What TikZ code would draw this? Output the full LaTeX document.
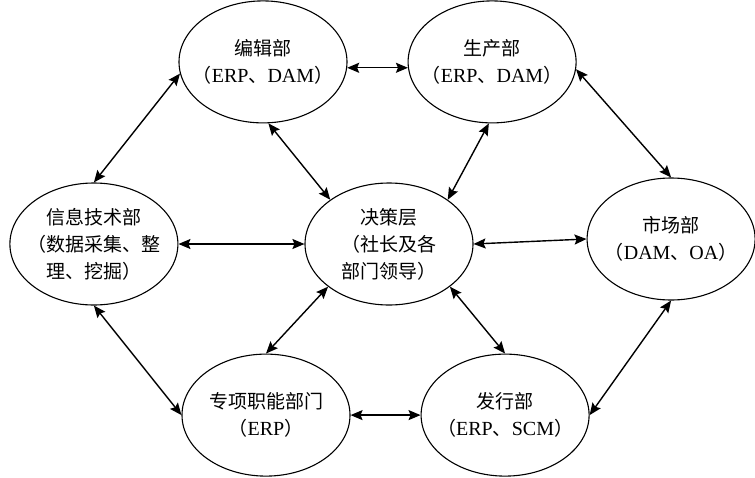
\documentclass[tikz,border=0pt]{standalone}
\usepackage{fontspec}
\setmainfont{Liberation Serif}
\newfontfamily\cjk{Noto Sans CJK SC}
\newcommand\lat[1]{{\rmfamily\fontsize{20}{27}\selectfont #1}}
\usetikzlibrary{shapes.geometric, arrows.meta, positioning}

\begin{document}
\begin{tikzpicture}[
    x=1pt, y=-1pt, node distance=60pt and 60pt,
    dept/.style={ellipse, draw, line width=1.1pt, minimum width=168pt, minimum height=122pt, inner ysep=0pt, inner xsep=-16pt, align=center, font=\cjk\fontsize{19}{27}\selectfont},
    arrow/.style={arrows={Stealth[length=12pt,width=10pt,inset=2pt]-Stealth[length=12pt,width=10pt,inset=2pt]}, line width=1.4pt}
]
    \useasboundingbox (0,0) rectangle (755,477);

    \node[dept] (decision) at (389,244) {决策层\\（社长及各\\部门领导）};
    \node[dept, left=126pt of decision] (info) {信息技术部\\（数据采集、整\\理、挖掘）};
    \node[dept, right=113pt of decision, yshift=5pt] (market) {市场部\\（\lat{DAM}、\lat{OA}）};

    \node[dept, above=59pt of decision, xshift=-126pt] (edit) {编辑部\\（\lat{ERP}、\lat{DAM}）};
    \node[dept, right=60pt of edit] (prod) {生产部\\（\lat{ERP}、\lat{DAM}）};

    \node[dept, below=48pt of decision, xshift=-123pt] (special) {专项职能部门\\（\lat{ERP}）};
    \node[dept, right=70pt of special] (issue) {发行部\\（\lat{ERP}、\lat{SCM}）};

    \draw[arrow] (edit.-4) -- (prod.184);
    \draw[arrow] (edit.188) -- (info.north);
    \draw[arrow] (edit.-85) -- (decision.143);
    \draw[arrow] (prod.-93) -- (decision.37);
    \draw[arrow] (prod.-5) -- (market.north);
    \draw[arrow] (info.east) -- (decision.west);
    \draw[arrow] (decision.east) -- (market.west);
    \draw[arrow] (info.south) -- (special.west);
    \draw[arrow] (decision.215) -- (special.north);
    \draw[arrow] (decision.-35) -- (issue.north);
    \draw[arrow] (special.east) -- (issue.west);
    \draw[arrow] (market.south) -- (issue.east);
\end{tikzpicture}
\end{document}
